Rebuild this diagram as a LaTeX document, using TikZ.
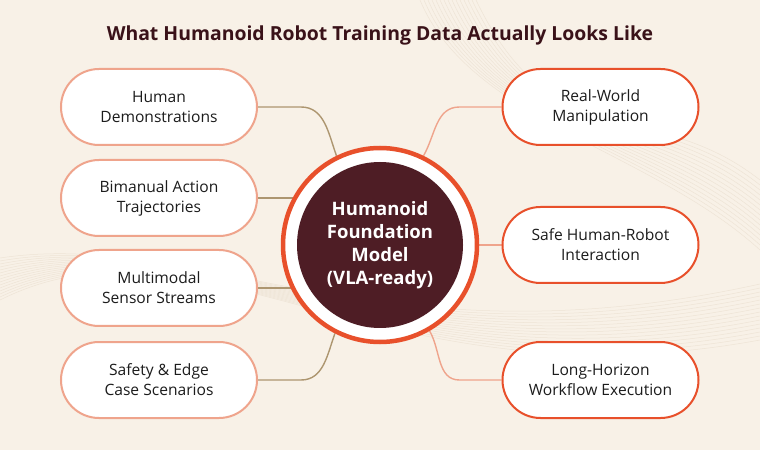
\documentclass[tikz,border=0pt]{standalone}
\usepackage{fontspec}
\setmainfont{Open Sans}
\usetikzlibrary{calc}
\definecolor{bgcream}{HTML}{F8F1E7}
\definecolor{wave}{HTML}{EEE4D6}
\definecolor{titlecol}{HTML}{3A1219}
\definecolor{maroon}{HTML}{4E1D25}
\definecolor{ring}{HTML}{E8502B}
\definecolor{salmon}{HTML}{EFA48C}
\definecolor{olive}{HTML}{AD9670}
\definecolor{txt}{HTML}{1C1C1C}
\pgfdeclarelayer{back}
\pgfdeclarelayer{bg}
\pgfsetlayers{back,bg,main}
\tikzset{
  pill/.style={rectangle, rounded corners=38pt, minimum width=196pt, minimum height=76pt,
    fill=white, line width=2pt, align=center, text=txt, font=\fontsize{15.6}{20}\selectfont, inner sep=0pt},
  leftpill/.style={pill, draw=salmon},
  rightpill/.style={pill, draw=ring},
  leftlink/.style={draw=olive, line width=1.4pt},
  rightlink/.style={draw=salmon, line width=1.4pt},
  wavy/.style={draw=wave, line width=0.5pt}
}
\begin{document}
\begin{tikzpicture}[x=1pt,y=1pt]
\begin{pgfonlayer}{back}
\fill[bgcream] (0,0) rectangle (760,450);
\useasboundingbox (0,0) rectangle (760,450);
\foreach \i in {0,...,14}{
  \draw[wavy] (420+4*\i,450) .. controls (470+6*\i,330-3*\i) and (650,300+4*\i) .. (760,200+5*\i);
  \draw[wavy] (0,150+3*\i) .. controls (200,250-2*\i) and (380,40+3*\i) .. (760,110+4*\i);
}
\end{pgfonlayer}

\node[font=\fontsize{19.4}{23}\selectfont\bfseries, text=titlecol] (title) at (380,415) {What Humanoid Robot Training Data Actually Looks Like};

\node[circle, minimum size=194pt, draw=ring, line width=4.5pt, fill=white, inner sep=0pt] (c) at (380,205) {};
\node[circle, minimum size=166pt, fill=maroon, inner sep=0pt, text=white, align=center,
  font=\fontsize{18.5}{23}\selectfont\bfseries] (ci) at (380,205) {Humanoid\\Foundation\\Model\\(VLA-ready)};

\node[leftpill] (h1) at (159,343) {Human\\Demonstrations};
\node[leftpill] (h2) at (159,252) {Bimanual Action\\Trajectories};
\node[leftpill] (h3) at (159,162) {Multimodal\\Sensor Streams};
\node[leftpill] (h4) at (159,70) {Safety \& Edge\\Case Scenarios};

\node[rightpill] (r1) at (600.5,343) {Real-World\\Manipulation};
\node[rightpill] (r2) at (600.5,205) {Safe Human-Robot\\Interaction};
\node[rightpill] (r3) at (600.5,70) {Long-Horizon\\Workflow Execution};

\begin{pgfonlayer}{bg}
\coordinate (k1) at ($(h1.east)+(43,0)$);
\coordinate (k4) at ($(h4.east)+(43,0)$);
\coordinate (q1) at ($(r1.west)+(-42,0)$);
\coordinate (q3) at ($(r3.west)+(-42,0)$);
\draw[leftlink] (h1.east) -- (k1) to[out=0,in=110] (c.116);
\draw[leftlink] (h2.east) -- (h2.east -| c.center);
\draw[leftlink] (h3.east) -- (h3.east -| c.center);
\draw[leftlink] (h4.east) -- (k4) to[out=0,in=-110] (c.243);
\draw[rightlink] (r1.west) -- (q1) to[out=180,in=60] (c.64);
\draw[rightlink] (r2.west) -- (c.center);
\draw[rightlink] (r3.west) -- (q3) to[out=180,in=-60] (c.300);
\end{pgfonlayer}
\end{tikzpicture}
\end{document}
